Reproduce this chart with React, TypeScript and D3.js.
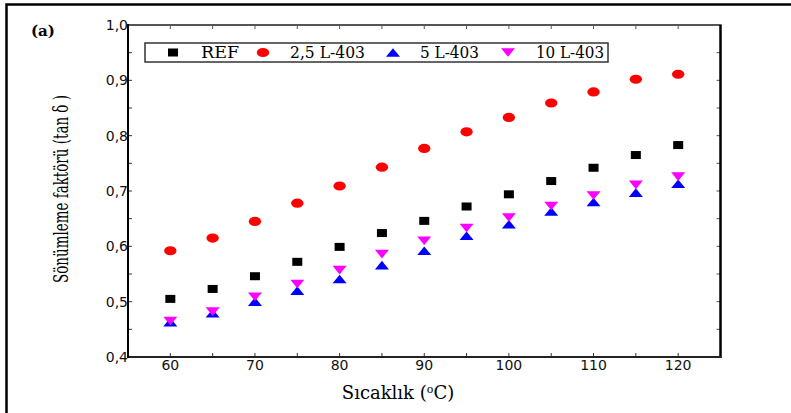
import React from "react";
import * as d3 from "d3";

const temps = [60, 65, 70, 75, 80, 85, 90, 95, 100, 105, 110, 115, 120];
const refValues = [0.505, 0.523, 0.546, 0.572, 0.599, 0.624, 0.646, 0.672, 0.694, 0.718, 0.742, 0.765, 0.783];
const l25Values = [0.592, 0.615, 0.645, 0.678, 0.709, 0.743, 0.777, 0.807, 0.833, 0.859, 0.879, 0.902, 0.911];
const l5Values = [0.463, 0.479, 0.5, 0.52, 0.541, 0.566, 0.592, 0.619, 0.64, 0.663, 0.68, 0.697, 0.713];
const l10Values = [0.465, 0.482, 0.509, 0.532, 0.557, 0.586, 0.61, 0.633, 0.652, 0.673, 0.692, 0.711, 0.726];
const xTicks = [60, 70, 80, 90, 100, 110, 120];
const yTicks = [0.4, 0.5, 0.6, 0.7, 0.8, 0.9, 1.0];
const seriesNames = ["REF", "2,5 L-403", "5 L-403", "10 L-403"];

const W = 791;
const H = 413;
const L = 128, R = 720.5, T = 25, B = 357;

const SERIF = "DejaVu Serif";
const SANS = "DejaVu Sans";

const x = d3.scaleLinear().domain([55, 125]).range([L, R]);
const y = d3.scaleLinear().domain([0.4, 1.0]).range([B, T]);

type Kind = "square" | "circle" | "up" | "down";

function Marker({ kind, cx, cy }: { kind: Kind; cx: number; cy: number }) {
  if (kind === "square") {
    return <rect x={cx - 5} y={cy - 4} width={10} height={8} fill="#000" />;
  }
  if (kind === "circle") {
    return <ellipse cx={cx} cy={cy} rx={6.2} ry={4.6} fill="#ff0000" />;
  }
  if (kind === "up") {
    const p = `${cx - 7},${cy + 4.3} ${cx + 7},${cy + 4.3} ${cx},${cy - 4.3}`;
    return <polygon points={p} fill="#0000ff" />;
  }
  const p = `${cx - 7},${cy - 4.3} ${cx + 7},${cy - 4.3} ${cx},${cy + 4.3}`;
  return <polygon points={p} fill="#ff00ff" />;
}

const series: { name: string; values: number[]; kind: Kind }[] = [
  { name: seriesNames[0], values: refValues, kind: "square" },
  { name: seriesNames[1], values: l25Values, kind: "circle" },
  { name: seriesNames[2], values: l5Values, kind: "up" },
  { name: seriesNames[3], values: l10Values, kind: "down" },
];

const legendItems = [
  { mx: 173, tx: 201, len: 38 },
  { mx: 263, tx: 290, len: 75 },
  { mx: 393, tx: 420, len: 59 },
  { mx: 508, tx: 536, len: 68 },
];

export default function App() {
  const minorX = d3.range(60, 125, 5);
  const minorY = d3.range(0.45, 1.0, 0.05);
  return (
    <div style={{ position: "absolute", left: 0, top: 0 }}>
      <svg width={W} height={H} style={{ display: "block", background: "#fff" }}>
        <rect x={0} y={0} width={W} height={H} fill="#fff" />
        <rect x={6.5} y={4.5} width={W + 20} height={H + 20} fill="none" stroke="#000" strokeWidth={2.5} />

        {minorX.map((t) => (
          <g key={"tx" + t}>
            <line x1={x(t)} x2={x(t)} y1={B} y2={B - 4} stroke="#333" strokeWidth={1} />
            <line x1={x(t)} x2={x(t)} y1={T} y2={T + 4} stroke="#555" strokeWidth={1} />
          </g>
        ))}
        {minorY.map((t) => (
          <g key={"ty" + t.toFixed(2)}>
            <line x1={R} x2={R - 4} y1={y(t)} y2={y(t)} stroke="#555" strokeWidth={1} />
            <line x1={L} x2={L + 4} y1={y(t)} y2={y(t)} stroke="#333" strokeWidth={1} />
          </g>
        ))}

        <line x1={L} x2={R + 1} y1={T} y2={T} stroke="#555" strokeWidth={2} />
        <line x1={R} x2={R} y1={T} y2={B + 1} stroke="#000" strokeWidth={2.5} />
        <line x1={L - 1} x2={R + 1} y1={B} y2={B} stroke="#222" strokeWidth={2} />
        <line x1={L} x2={L} y1={T - 1} y2={B + 1} stroke="#000" strokeWidth={2} />

        {xTicks.map((t) => (
          <text key={"xl" + t} x={x(t)} y={370} textAnchor="middle" fontFamily={SANS} fontSize={14} fill="#111">
            {t}
          </text>
        ))}
        {yTicks.map((t) => (
          <text key={"yl" + t} x={L} y={y(t) + 5} textAnchor="end" fontFamily={SANS} fontSize={14} fill="#111">
            {t.toFixed(1).replace(".", ",")}
          </text>
        ))}

        <text x={398} y={399} textAnchor="middle" fontFamily={SERIF} fontSize={18} fill="#000">
          Sıcaklık (<tspan dy={-6} fontSize={11}>o</tspan><tspan dy={6}>C)</tspan>
        </text>
        <text
          transform={`translate(68,189) rotate(-90)`}
          textAnchor="middle"
          fontFamily={SERIF}
          fontSize={19.5}
          textLength={188}
          lengthAdjust="spacingAndGlyphs"
          fill="#000"
        >
          Sönümleme faktörü (tan δ )
        </text>
        <text x={31} y={36} fontFamily={SERIF} fontSize={15} fontWeight="bold" textLength={24} lengthAdjust="spacingAndGlyphs" fill="#000">
          (a)
        </text>

        {series.map((s) => (
          <g key={s.name}>
            {s.values.map((v, i) => (
              <Marker key={i} kind={s.kind} cx={x(temps[i])} cy={y(v)} />
            ))}
          </g>
        ))}

        <rect x={145} y={43} width={463} height={19} fill="#fff" stroke="#333" strokeWidth={1.5} />
        {series.map((s, i) => (
          <g key={"lg" + s.name}>
            <Marker kind={s.kind} cx={legendItems[i].mx} cy={52.5} />
            <text
              x={legendItems[i].tx}
              y={58}
              fontFamily={SERIF}
              fontSize={16}
              textLength={legendItems[i].len}
              lengthAdjust="spacingAndGlyphs"
              fill="#000"
            >
              {s.name}
            </text>
          </g>
        ))}
      </svg>
    </div>
  );
}
